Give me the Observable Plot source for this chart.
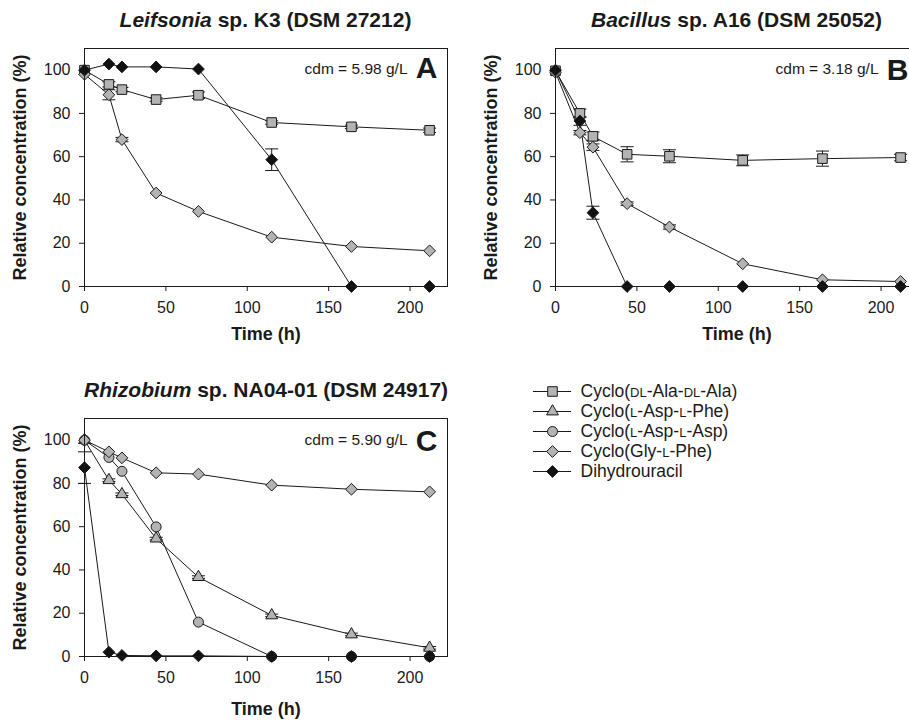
<!DOCTYPE html>
<html>
<head>
<meta charset="utf-8">
<script src="https://cdn.jsdelivr.net/npm/d3@7"></script>
<script src="https://cdn.jsdelivr.net/npm/@observablehq/plot@0.6"></script>
<style>
  body { margin: 0; background: #fff; }
  #wrap { position: relative; width: 909px; height: 722px; overflow: hidden; background: #fff;
          font-family: "Liberation Sans", Arial, sans-serif; color: #1a1a1a; }
  .panel { position: absolute; }
  .panel svg { max-width: none !important; }
  .panel g[aria-label$="tick label"] { font-size: 16px; }
  .title { position: absolute; font-weight: bold; font-size: 21px; text-align: center;
           line-height: 20px; white-space: nowrap; color: #1a1a1a; }
</style>
</head>
<body>
<div id="wrap"></div>
<script>
// ---------- data ----------
const times = [0, 15, 23, 44, 70, 115, 164, 212];
const xTicks = [0, 50, 100, 150, 200];
const yTicks = [0, 20, 40, 60, 80, 100];

const seriesNames = ["Cyclo(DL-Ala-DL-Ala)", "Cyclo(L-Asp-L-Phe)", "Cyclo(L-Asp-L-Asp)", "Cyclo(Gly-L-Phe)", "Dihydrouracil"];

// Panel A: Leifsonia sp. K3
const A_alaAla     = [100, 93.4, 91.0, 86.4, 88.4, 75.8, 73.8, 72.2];
const A_alaAla_err = [0, 1.2, 1.0, 0.8, 1.5, 0.8, 0.8, 1.0];
const A_glyPhe     = [98.1, 88.6, 67.9, 43.2, 34.7, 22.8, 18.5, 16.5];
const A_glyPhe_err = [0, 2.3, 1.0, 0, 0, 0, 0, 0];
const A_dhu        = [100, 102.8, 101.5, 101.5, 100.5, 58.6, 0, 0];
const A_dhu_err    = [0, 0, 0, 0, 0, 5, 0, 0];

// Panel B: Bacillus sp. A16
const B_alaAla     = [99.7, 80.0, 69.4, 61.1, 60.2, 58.3, 59.1, 59.6];
const B_alaAla_err = [0, 2, 2, 3.5, 3, 2.5, 3.5, 1.5];
const B_glyPhe     = [99, 71.1, 64.4, 38.3, 27.5, 10.5, 3.1, 2.3];
const B_glyPhe_err = [0, 1, 1.5, 0.8, 1, 0, 0, 0];
const B_dhu        = [100, 76.5, 34.1, 0, 0, 0, 0, 0];
const B_dhu_err    = [0, 2, 3, 0, 0, 0, 0, 0];

// Panel C: Rhizobium sp. NA04-01
const C_aspPhe     = [100, 81.5, 75.0, 54.5, 36.7, 19.0, 10.2, 4.0];
const C_aspPhe_err = [0, 0.6, 0.6, 0.6, 0.6, 0.6, 0.6, 0.6];
const C_aspAsp     = [100, 92.0, 85.6, 59.9, 15.9, 0, 0, 0];
const C_aspAsp_err = [0, 0, 0, 0, 0, 0, 0, 0];
const C_glyPhe     = [100, 94.6, 91.8, 84.9, 84.3, 79.2, 77.3, 76.1];
const C_glyPhe_err = [0, 0, 0, 0, 0, 0, 0, 0];
const C_dhu        = [87.3, 2.0, 0.5, 0.3, 0.3, 0, 0, 0];
const C_dhu_err    = [7.3, 0, 0, 0, 0, 0, 0, 0];

const panelTitles = [["Leifsonia", " sp. K3 (DSM 27212)"], ["Bacillus", " sp. A16 (DSM 25052)"], ["Rhizobium", " sp. NA04-01 (DSM 24917)"]];
const panelLetters = ["A", "B", "C"];
const panelCdm = ["cdm = 5.98 g/L", "cdm = 3.18 g/L", "cdm = 5.90 g/L"];

// ---------- styles ----------
const GRAY = "#b3b3b3", INK = "#1a1a1a";
const seriesStyle = {
  "Cyclo(DL-Ala-DL-Ala)": {symbol: "square", fill: GRAY, r: 5.4},
  "Cyclo(L-Asp-L-Phe)":   {symbol: "triangle", fill: GRAY, r: 4.4},
  "Cyclo(L-Asp-L-Asp)":   {symbol: "circle", fill: GRAY, r: 5},
  "Cyclo(Gly-L-Phe)":     {symbol: "diamond2", fill: GRAY, r: 5.3},
  "Dihydrouracil":        {symbol: "diamond2", fill: "#111", r: 5.3}
};
const capSymbol = { draw(ctx) { ctx.moveTo(-6.5, 0); ctx.lineTo(6.5, 0); } };
const FONT = '"Liberation Sans", Arial, sans-serif';

function rowsOf(name, vals, errs) {
  return times.map((t, i) => ({t, v: vals[i], e: errs[i], s: name}));
}

const panels = [
  {left: 0, top: 0, height: 350, xlabDy: 48, annDy: 20.5, letterDy: 19.5,
   series: [rowsOf(seriesNames[0], A_alaAla, A_alaAla_err), rowsOf(seriesNames[3], A_glyPhe, A_glyPhe_err), rowsOf(seriesNames[4], A_dhu, A_dhu_err)]},
  {left: 471, top: 0, height: 350, xlabDy: 48, annDy: 20.5, letterDy: 21.5,
   series: [rowsOf(seriesNames[0], B_alaAla, B_alaAla_err), rowsOf(seriesNames[3], B_glyPhe, B_glyPhe_err), rowsOf(seriesNames[4], B_dhu, B_dhu_err)]},
  {left: 0, top: 370, height: 352, xlabDy: 53, annDy: 21.5, letterDy: 22.5,
   series: [rowsOf(seriesNames[1], C_aspPhe, C_aspPhe_err), rowsOf(seriesNames[2], C_aspAsp, C_aspAsp_err), rowsOf(seriesNames[3], C_glyPhe, C_glyPhe_err), rowsOf(seriesNames[4], C_dhu, C_dhu_err)]}
];

const wrap = document.getElementById("wrap");
const M = {left: 84, top: 48, right: 8, width: 455};

panels.forEach((p, k) => {
  const lines = p.series.map(rows => Plot.line(rows, {x: "t", y: "v", stroke: INK, strokeWidth: 1}));
  const errs = p.series.flatMap(rows => {
    const er = rows.filter(d => d.e > 0);
    return [
      Plot.ruleX(er, {x: "t", y1: d => d.v - d.e, y2: d => d.v + d.e, stroke: INK, strokeWidth: 1}),
      Plot.dot(er, {x: "t", y: d => d.v - d.e, symbol: capSymbol, r: 4, stroke: INK, fill: "none", strokeWidth: 1}),
      Plot.dot(er, {x: "t", y: d => d.v + d.e, symbol: capSymbol, r: 4, stroke: INK, fill: "none", strokeWidth: 1})
    ];
  });
  const dots = p.series.map(rows => {
    const st = seriesStyle[rows[0].s];
    return Plot.dot(rows, {x: "t", y: "v", symbol: st.symbol, r: st.r, fill: st.fill, stroke: INK, strokeWidth: 1});
  });
  const chart = Plot.plot({
    width: M.width, height: p.height,
    marginLeft: M.left, marginTop: M.top, marginRight: M.right, marginBottom: p.height - 286,
    style: {fontFamily: FONT, fontSize: "16px", color: INK, background: "transparent", overflow: "visible", maxWidth: "none"},
    x: {domain: [0, 223]},
    y: {domain: [0, 110]},
    marks: [
      Plot.axisX({ticks: xTicks, tickSize: 5, tickPadding: 10, label: null, stroke: INK}),
      Plot.axisY({ticks: yTicks, tickSize: 5, tickPadding: 9, label: null, stroke: INK}),
      ...lines, ...errs, ...dots,
      Plot.frame({stroke: INK, strokeWidth: 1}),
      Plot.text([panelCdm[k]], {frameAnchor: "top-right", dx: -40, dy: p.annDy, textAnchor: "end", lineAnchor: "middle", fontSize: 15.5, fill: INK}),
      Plot.text([panelLetters[k]], {frameAnchor: "top-right", dx: -10, dy: p.letterDy, textAnchor: "end", lineAnchor: "middle", fontSize: 30, fontWeight: "bold", fill: INK}),
      Plot.text(["Time (h)"], {frameAnchor: "bottom", dy: p.xlabDy, lineAnchor: "middle", fontSize: 18, fontWeight: "bold", fill: INK}),
      Plot.text(["Relative concentration (%)"], {frameAnchor: "left", dx: -64, rotate: -90, textAnchor: "middle", lineAnchor: "middle", fontSize: 18, fontWeight: "bold", fill: INK})
    ]
  });
  const div = document.createElement("div");
  div.className = "panel";
  div.style.left = p.left + "px";
  div.style.top = p.top + "px";
  div.style.width = M.width + "px";
  div.appendChild(chart);
  wrap.appendChild(div);

  const t = document.createElement("div");
  t.className = "title";
  t.style.left = (p.left + M.left) + "px";
  t.style.width = (M.width - M.left - M.right) + "px";
  t.style.top = (p.top + 10) + "px";
  const it = document.createElement("i");
  it.textContent = panelTitles[k][0];
  t.appendChild(it);
  t.appendChild(document.createTextNode(panelTitles[k][1]));
  wrap.appendChild(t);
});

// ---------- legend ----------
const legendMarks = [
  Plot.ruleY(seriesNames, {y: d => d, stroke: INK, strokeWidth: 1}),
  ...seriesNames.map(n => {
    const st = seriesStyle[n];
    return Plot.dot([n], {y: d => d, symbol: st.symbol, r: st.r, fill: st.fill, stroke: INK, strokeWidth: 1});
  }),
  Plot.text(seriesNames, {y: d => d, frameAnchor: "right", dx: 9, textAnchor: "start", lineAnchor: "middle", fontSize: 17.5, fill: INK})
];
const legend = Plot.plot({
  width: 260, height: 120,
  marginLeft: 33, marginRight: 189, marginTop: 20, marginBottom: 18,
  style: {fontFamily: FONT, color: INK, background: "transparent", overflow: "visible", maxWidth: "none"},
  y: {type: "point", domain: seriesNames, padding: 0, axis: null},
  marks: legendMarks
});
// small caps for stereo descriptors (DL, L)
legend.querySelectorAll("text").forEach(el => {
  const s = el.textContent;
  const re = /(DL|L)(?=-)/g;
  el.textContent = "";
  let last = 0, m;
  const NS = "http://www.w3.org/2000/svg";
  while ((m = re.exec(s))) {
    if (m.index > last) el.appendChild(document.createTextNode(s.slice(last, m.index)));
    const ts = document.createElementNS(NS, "tspan");
    ts.setAttribute("font-size", "13");
    ts.textContent = m[0];
    el.appendChild(ts);
    last = m.index + m[0].length;
  }
  if (last < s.length) el.appendChild(document.createTextNode(s.slice(last)));
});
const ld = document.createElement("div");
ld.className = "panel";
ld.style.left = "500px";
ld.style.top = "370px";
ld.appendChild(legend);
wrap.appendChild(ld);
</script>
</body>
</html>
